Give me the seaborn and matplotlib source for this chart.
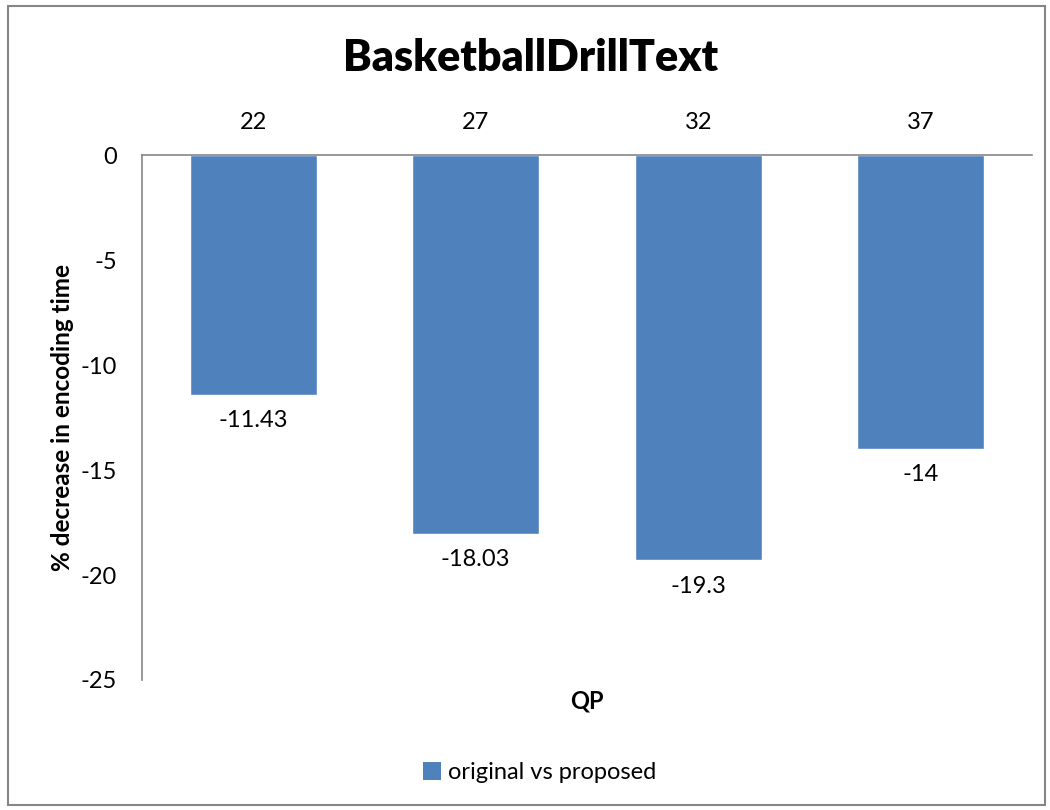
import matplotlib
matplotlib.use("Agg")
import matplotlib.pyplot as plt
from matplotlib.patches import Rectangle, Patch
import seaborn as sns
import pandas as pd

qp = ["22", "27", "32", "37"]
decrease = [-11.43, -18.03, -19.3, -14]
series_name = "original vs proposed"

sns.set_theme(style="white")
plt.rcParams["font.family"] = ["Lato", "DejaVu Sans"]
plt.rcParams["text.color"] = "black"
plt.rcParams["axes.labelcolor"] = "black"

df = pd.DataFrame({"QP": qp, "value": decrease})

fig = plt.figure(figsize=(10.5, 8.1), dpi=100)
ax = fig.add_axes([0.1352, 0.1605, 0.8476, 0.6481])

bar_color = "#4F81BD"
fs = 17
sns.barplot(data=df, x="QP", y="value", color=bar_color, width=0.57,
            saturation=1, ax=ax)

ax.set_ylim(-25, 0)
ax.set_yticks([0, -5, -10, -15, -20, -25])
ax.set_yticklabels(["0", "-5", "-10", "-15", "-20", "-25"])
ax.set_xlim(-0.5, 3.5)
ax.xaxis.tick_top()
ax.tick_params(axis="both", length=0, labelsize=fs, colors="black")
ax.tick_params(axis="x", pad=16)
ax.tick_params(axis="y", pad=18)

for side in ["right", "bottom"]:
    ax.spines[side].set_visible(False)
for side in ["left", "top"]:
    ax.spines[side].set_color("#868686")
    ax.spines[side].set_linewidth(1.2)

ax.set_xlabel("")
ax.set_ylabel("% decrease in encoding time", fontsize=17.5, fontweight="bold",
              labelpad=5, color="black")
ax.text(0.5, -0.018, "QP", transform=ax.transAxes, ha="center", va="top",
        fontsize=fs, fontweight="bold", color="black")

labels = [f"{v:g}" for v in decrease]
ax.bar_label(ax.containers[0], labels=labels, padding=11, fontsize=fs,
             color="black")

fig.text(0.505, 0.928, "BasketballDrillText", ha="center", va="center",
         fontsize=31, fontweight="heavy", color="black")

handle = Patch(facecolor=bar_color, edgecolor="none")
fig.legend([handle], [series_name], loc="center", bbox_to_anchor=(0.514, 0.046),
           frameon=False, fontsize=fs, handlelength=0.75, handleheight=0.75,
           handletextpad=0.3, labelcolor="black")

fig.patches.append(Rectangle((0.008, 0.006), 0.987, 0.986, transform=fig.transFigure,
                             fill=False, edgecolor="#868686", linewidth=1.5))

fig.savefig("out.png", dpi=100, facecolor="white")
